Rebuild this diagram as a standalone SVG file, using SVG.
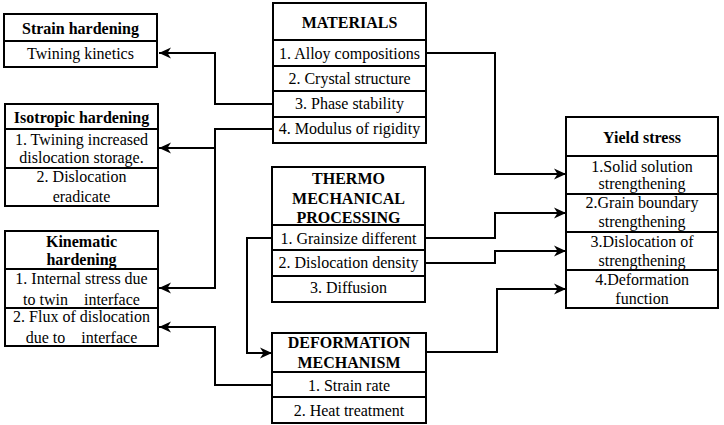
<svg xmlns="http://www.w3.org/2000/svg" width="724" height="425" viewBox="0 0 724 425">
<style>
rect.b{fill:#fff;stroke:#000;stroke-width:2}
line.d{stroke:#000;stroke-width:2}
text{font-family:"Liberation Serif","Times New Roman",serif;font-size:16px;fill:#000;text-anchor:middle}
text.t{font-weight:bold}
.c path{fill:none;stroke:#000;stroke-width:2}
</style>
<defs>
<marker id="ah" markerUnits="userSpaceOnUse" markerWidth="13" markerHeight="12" refX="12" refY="6" orient="auto">
<path d="M0,0.5 L12,6 L0,11.5 L3.5,6 z" fill="#000"/>
</marker>
</defs>
<g class="c" id="connectors">
<path d="M273,104 H215 V53 H159" marker-end="url(#ah)"/>
<path d="M273,129 H215 V288 H159" marker-end="url(#ah)"/>
<path d="M215,148 H159" marker-end="url(#ah)"/>
<path d="M426,53 H495 V174 H566" marker-end="url(#ah)"/>
<path d="M425,238 H495 V213 H566" marker-end="url(#ah)"/>
<path d="M425,263 H495 V251 H566" marker-end="url(#ah)"/>
<path d="M272,238 H247 V353 H272" marker-end="url(#ah)"/>
<path d="M426,352 H497 V289 H566" marker-end="url(#ah)"/>
<path d="M272,385 H215 V327 H159" marker-end="url(#ah)"/>
</g>
<g id="strain">
<rect class="b" x="4" y="14" width="153" height="53"/>
<line class="d" x1="4" y1="41" x2="157" y2="41"/>
<text class="t" x="80.5" y="34">Strain hardening</text>
<text x="80.5" y="59">Twining kinetics</text>
</g>
<g id="isotropic">
<rect class="b" x="5" y="104" width="153" height="102"/>
<line class="d" x1="5" y1="129" x2="158" y2="129"/>
<line class="d" x1="5" y1="168" x2="158" y2="168"/>
<text class="t" x="81.5" y="123">Isotropic hardening</text>
<text x="81.5" y="145">1. Twining increased</text>
<text x="81.5" y="163">dislocation storage.</text>
<text x="81.5" y="182">2. Dislocation</text>
<text x="81.5" y="202">eradicate</text>
</g>
<g id="kinematic">
<rect class="b" x="5" y="231" width="153" height="115"/>
<line class="d" x1="5" y1="269" x2="158" y2="269"/>
<line class="d" x1="5" y1="308" x2="158" y2="308"/>
<text class="t" x="81.5" y="247">Kinematic</text>
<text class="t" x="81.5" y="265">hardening</text>
<text x="81.5" y="284">1. Internal stress due</text>
<text x="81.5" y="305" xml:space="preserve">to twin    interface</text>
<text x="81.5" y="322">2. Flux of dislocation</text>
<text x="81.5" y="343" xml:space="preserve">due to    interface</text>
</g>
<g id="materials">
<rect class="b" x="273" y="3" width="153" height="140"/>
<line class="d" x1="273" y1="40" x2="426" y2="40"/>
<line class="d" x1="273" y1="66" x2="426" y2="66"/>
<line class="d" x1="273" y1="91" x2="426" y2="91"/>
<line class="d" x1="273" y1="117" x2="426" y2="117"/>
<text class="t" x="349.5" y="28">MATERIALS</text>
<text x="349.5" y="58.5">1. Alloy compositions</text>
<text x="349.5" y="83.5">2. Crystal structure</text>
<text x="349.5" y="108.5">3. Phase stability</text>
<text x="349.5" y="134">4. Modulus of rigidity</text>
</g>
<g id="thermo">
<rect class="b" x="272" y="167" width="153" height="135"/>
<line class="d" x1="272" y1="225" x2="425" y2="225"/>
<line class="d" x1="272" y1="250" x2="425" y2="250"/>
<line class="d" x1="272" y1="276" x2="425" y2="276"/>
<text class="t" x="348.5" y="184">THERMO</text>
<text class="t" x="348.5" y="204">MECHANICAL</text>
<text class="t" x="348.5" y="223">PROCESSING</text>
<text x="348.5" y="244">1. Grainsize different</text>
<text x="348.5" y="268">2. Dislocation density</text>
<text x="348.5" y="293">3. Diffusion</text>
</g>
<g id="deformation">
<rect class="b" x="272" y="333" width="154" height="90"/>
<line class="d" x1="272" y1="372" x2="426" y2="372"/>
<line class="d" x1="272" y1="397" x2="426" y2="397"/>
<text class="t" x="349" y="348">DEFORMATION</text>
<text class="t" x="349" y="368">MECHANISM</text>
<text x="349" y="390.5">1. Strain rate</text>
<text x="349" y="416">2. Heat treatment</text>
</g>
<g id="yield">
<rect class="b" x="566" y="117" width="152" height="191"/>
<line class="d" x1="566" y1="156" x2="718" y2="156"/>
<line class="d" x1="566" y1="194" x2="718" y2="194"/>
<line class="d" x1="566" y1="232" x2="718" y2="232"/>
<line class="d" x1="566" y1="270" x2="718" y2="270"/>
<text class="t" x="642" y="142.5">Yield stress</text>
<text x="642" y="171.5">1.Solid solution</text>
<text x="642" y="189">strengthening</text>
<text x="642" y="208">2.Grain boundary</text>
<text x="642" y="227">strengthening</text>
<text x="642" y="247">3.Dislocation of</text>
<text x="642" y="265.5">strengthening</text>
<text x="642" y="285">4.Deformation</text>
<text x="642" y="304">function</text>
</g>
</svg>
